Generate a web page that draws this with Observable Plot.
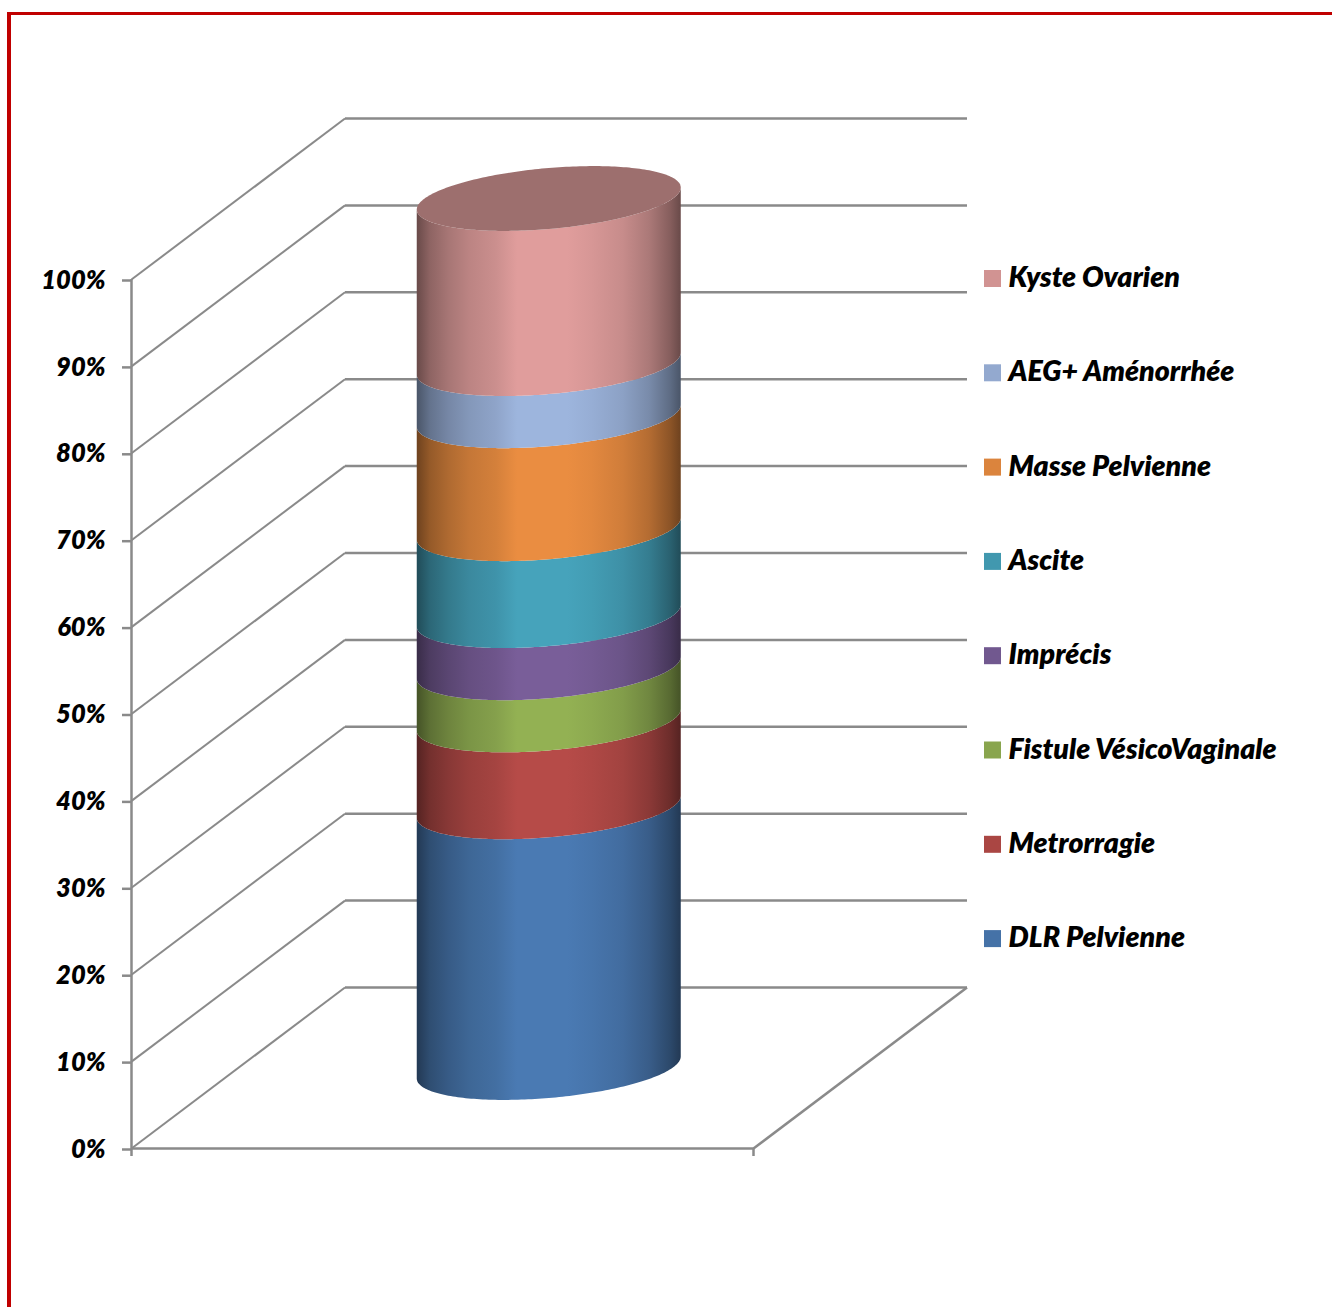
<!DOCTYPE html>
<html lang="fr">
<head>
<meta charset="utf-8">
<title>Répartition des motifs de consultation</title>
<script src="https://cdn.jsdelivr.net/npm/d3@7"></script>
<script src="https://cdn.jsdelivr.net/npm/@observablehq/plot@0.6"></script>
<style>
  html, body { margin: 0; padding: 0; background: #fff; }
  #sheet { position: relative; width: 1332px; height: 1307px; overflow: hidden; }
  #sheet svg { position: absolute; left: 0; top: 0; overflow: visible; }
  #edge { position: absolute; left: 7px; top: 12px; right: 0; bottom: 0;
          border-left: 4px solid #c00000; border-top: 3px solid #c00000; }
</style>
</head>
<body>
<div id="sheet"><div id="edge"></div></div>
<script>
// Stacked shares, bottom to top
const categories = ["DLR Pelvienne", "Metrorragie", "Fistule VésicoVaginale", "Imprécis", "Ascite", "Masse Pelvienne", "AEG+ Aménorrhée", "Kyste Ovarien"];
const shares = [30, 10, 6, 6, 10, 13, 6, 19];
const seriesColors = ["#4572a7", "#aa4643", "#89a54e", "#71588f", "#4198af", "#db843d", "#93a9cf", "#d19392"];
const percentTicks = [0, 10, 20, 30, 40, 50, 60, 70, 80, 90, 100];

// Page layout of the front face of the chart box
const left = 131, right = 753, bottom = 1148, top100 = 279;
const pxPerX = right - left;
const pxPerPct = (bottom - top100) / 100;
const toX = (px) => (px - left) / pxPerX;
const toPct = (px) => (bottom - px) / pxPerPct;

// Oblique projection: the back of the box sits up and to the right of the front
const depthX = 213.5 / pxPerX;
const depthPct = 161 / pxPerPct;

// The cylinder stands in the middle of the floor; its rings are tilted ellipses
const cx = 0.5 + depthX / 2;
const rx = 132 / pxPerX;
const tilt = 11 / pxPerPct;
const ry = 30.5 / pxPerPct;
const base = depthPct / 2;
const turn = d3.range(0, 121).map((i) => (i / 120) * Math.PI);
const frontArc = (pct, t) => pct + base + tilt * Math.cos(t) - ry * Math.sin(t);
const backArc = (pct, t) => pct + base + tilt * Math.cos(t) + ry * Math.sin(t);

const tops = Array.from(d3.cumsum(shares));
const bands = categories.map((name, i) => {
  const lower = i ? tops[i - 1] : 0;
  return turn.map((t) => ({
    x: cx + rx * Math.cos(t),
    y1: frontArc(lower, t),
    y2: frontArc(tops[i], t)
  }));
});
const lid = turn.map((t) => ({
  x: cx + rx * Math.cos(t),
  y1: frontArc(100, t),
  y2: backArc(100, t)
}));

const levels = percentTicks.map((pct) => ({ pct }));
const floorEdges = [
  { x1: 0, y1: 0, x2: 1, y2: 0 },
  { x1: 1, y1: 0, x2: 1 + depthX, y2: depthPct }
];

// Legend rows run from the top series down
const legendTop = toPct(278.5);
const legendStep = 94.3 / pxPerPct;
const legendRows = categories.map((name, i) => ({
  name,
  y: legendTop - (categories.length - 1 - i) * legendStep
}));

const gray = "#8a8a8a";
const textStyle = { fontFamily: "Lato", fontWeight: 800, fontStyle: "italic" };

// Horizontal shading that rounds the cylinder: each stop scales the series colour
const shadeStops = [
  [0, 0.5], [0.05, 0.68], [0.12, 0.8], [0.2, 0.9], [0.3, 0.97], [0.38, 1.07], [0.57, 1.07],
  [0.66, 1.03], [0.78, 0.95], [0.88, 0.82], [0.96, 0.64], [1, 0.5]
];
const scaled = (color, k) => {
  const { r, g, b } = d3.rgb(color);
  return d3.rgb(r * k, g * k, b * k).formatHex();
};
function shadeDefs() {
  const defs = d3.create("svg:defs");
  defs.selectAll("linearGradient").data(seriesColors).join("linearGradient")
    .attr("id", (d, i) => `shade-${i}`)
    .selectAll("stop").data((color) => shadeStops.map(([offset, k]) => ({ offset, fill: scaled(color, k) })))
    .join("stop")
    .attr("offset", (d) => d.offset)
    .attr("stop-color", (d) => d.fill);
  return defs.node();
}

const chart = Plot.plot({
  width: 1332,
  height: 1307,
  marginLeft: left,
  marginRight: 1332 - right,
  marginTop: top100,
  marginBottom: 1307 - bottom,
  style: { background: "transparent" },
  x: { domain: [0, 1], axis: null },
  y: { domain: [0, 100] },
  color: { domain: categories, range: seriesColors },
  marks: [
    shadeDefs,
    // Side wall and back wall gridlines
    Plot.link(levels, { x1: 0, y1: "pct", x2: depthX, y2: (d) => d.pct + depthPct, stroke: gray, strokeWidth: 2 }),
    Plot.link(levels, { x1: depthX, y1: (d) => d.pct + depthPct, x2: 1 + depthX, y2: (d) => d.pct + depthPct, stroke: gray, strokeWidth: 2.5 }),
    Plot.link(floorEdges, { x1: "x1", y1: "y1", x2: "x2", y2: "y2", stroke: gray, strokeWidth: 2.5 }),
    // Axes
    Plot.ruleX([0], { y1: toPct(bottom + 8), y2: 100, stroke: gray, strokeWidth: 2.5 }),
    Plot.ruleX([1], { y1: toPct(bottom + 8), y2: 0, stroke: gray, strokeWidth: 2.5 }),
    Plot.axisY({
      ticks: percentTicks, tickSize: 9, tickPadding: 17, label: null,
      tickFormat: (d) => `${d}%`, stroke: gray, strokeWidth: 2.5, fill: "#000",
      fontSize: 25.5, dy: 1, ...textStyle
    }),
    // Cylinder, one shaded ring per series, closed by a flat lid
    ...bands.map((ring, i) => Plot.area(ring, { x1: "x", y1: "y1", y2: "y2", fill: `url(#shade-${i})` })),
    Plot.area(lid, { x1: "x", y1: "y1", y2: "y2", fill: d3.rgb(seriesColors[7]).darker(0.8).formatHex() }),
    // Legend
    Plot.rect(legendRows, {
      x1: toX(984), x2: toX(1001),
      y1: (d) => d.y - 8.5 / pxPerPct, y2: (d) => d.y + 8.5 / pxPerPct,
      fill: "name"
    }),
    Plot.text(legendRows, { x: toX(1008), y: "y", dy: -1, text: "name", textAnchor: "start", fill: "#000", fontSize: 28.5, ...textStyle })
  ]
});
document.getElementById("sheet").appendChild(chart);
</script>
</body>
</html>
